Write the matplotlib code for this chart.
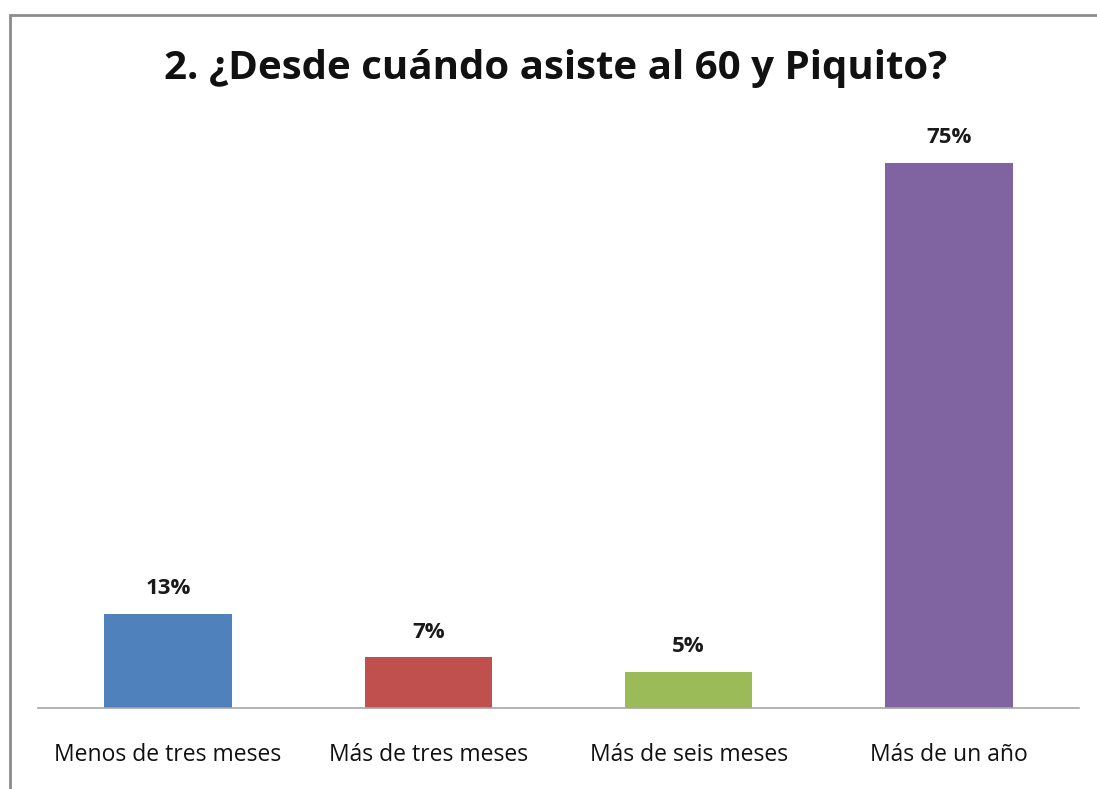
import matplotlib
matplotlib.use("Agg")
import matplotlib.pyplot as plt
from matplotlib.patches import Rectangle

categories = ["Menos de tres meses", "Más de tres meses", "Más de seis meses", "Más de un año"]
values = [13, 7, 5, 75]
labels = ["13%", "7%", "5%", "75%"]
colors = ["#4F81BD", "#C0504D", "#9BBB59", "#8064A2"]
title = "2. ¿Desde cuándo asiste al 60 y Piquito?"

plt.rcParams['font.family'] = ['Open Sans', 'DejaVu Sans']

fig = plt.figure(figsize=(10.97, 7.89), dpi=100)
fig.patch.set_facecolor("white")

# outer chart border
fig.add_artist(Rectangle((9.5/1097, -0.05), 1.2, 1 - 14.5/789 + 0.05,
                         transform=fig.transFigure, fill=False,
                         edgecolor="#8c8c8c", linewidth=2))

ax = fig.add_axes([38/1097, 1 - 708/789, (1079 - 38)/1097, (708 - 126.6)/789])
x = list(range(len(categories)))
ax.bar(x, values, width=0.49, color=colors)
ax.set_xlim(-0.5, 3.5)
ax.set_ylim(0, 80)

for xi, v, lab in zip(x, values, labels):
    ax.annotate(lab, (xi, v), xytext=(0, 14), textcoords="offset points",
                ha="center", va="baseline", fontsize=16, fontweight="bold", color="#1a1a1a")

for s in ["top", "right", "left"]:
    ax.spines[s].set_visible(False)
ax.spines["bottom"].set_color("#a6a6a6")
ax.spines["bottom"].set_linewidth(1.2)
ax.set_yticks([])
ax.set_xticks(x)
ax.set_xticklabels(categories, fontsize=16.5, color="#111111")
ax.tick_params(axis="x", length=0, pad=25)

fig.text(556/1097, 1 - 79/789, title, ha="center", va="baseline",
         fontsize=29, fontweight="bold", color="#111111")

fig.savefig("out.png", dpi=100)
